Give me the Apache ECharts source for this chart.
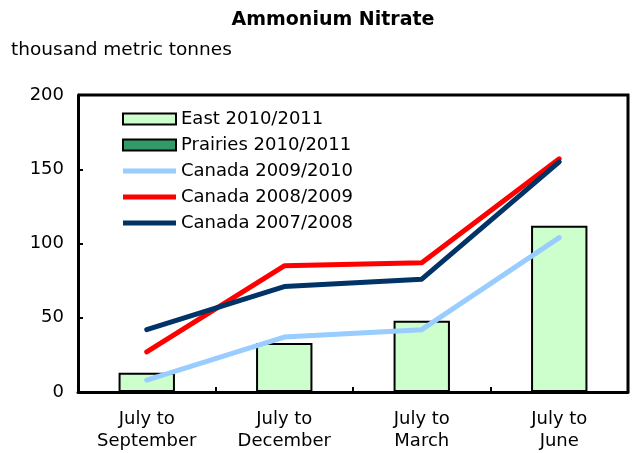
<!DOCTYPE html>
<html>
<head>
<meta charset="utf-8">
<script src="https://cdn.jsdelivr.net/npm/echarts@6/dist/echarts.min.js"></script>
<style>
  html, body { margin: 0; padding: 0; background: #fff; }
  #chart { width: 632px; height: 453px; }
</style>
</head>
<body>
<div id="chart"></div>
<script>
// data
const categories = ["July to\nSeptember", "July to\nDecember", "July to\nMarch", "July to\nJune"];
const east1011 = [13, 33, 48, 112];
const prairies1011 = [null, null, null, null]; // not visible in the picture
const canada0910 = [8, 37, 42, 104];
const canada0809 = [27, 85, 87, 157];
const canada0708 = [42, 71, 76, 155];

const font = "DejaVu Sans, Verdana, sans-serif";
const lineIcon = "path://M0,0H52V5H0Z";
const chart = echarts.init(document.getElementById("chart"));

const lineSeries = (name, data, color) => ({
  name: name,
  type: "line",
  data: data,
  symbol: "none",
  lineStyle: { color: color, width: 5, cap: "round", join: "round" },
  itemStyle: { color: color },
  z: 3
});

chart.setOption({
  animation: false,
  textStyle: { fontFamily: font },
  title: {
    text: "Ammonium Nitrate",
    left: 328,
    textAlign: "center",
    top: 6,
    textStyle: { fontSize: 19, fontWeight: "bold", color: "#000", fontFamily: font }
  },
  graphic: [{
    type: "text",
    left: 11,
    top: 41,
    style: { text: "thousand metric tonnes", font: "18.5px " + font, fill: "#000" }
  }, {
    type: "polyline",
    shape: { points: [[78, 95], [628, 95], [628, 392]] },
    style: { stroke: "#000", lineWidth: 3, fill: null },
    z: 10
  }],
  legend: {
    orient: "vertical",
    left: 117,
    top: 105,
    itemGap: 8,
    itemWidth: 53,
    itemHeight: 11,
    textStyle: { fontSize: 18, color: "#000", fontFamily: font, padding: [0, 0, 0, 0] },
    data: [
      { name: "East 2010/2011", icon: "rect" },
      { name: "Prairies 2010/2011", icon: "rect" },
      { name: "Canada 2009/2010", icon: lineIcon },
      { name: "Canada 2008/2009", icon: lineIcon },
      { name: "Canada 2007/2008", icon: lineIcon }
    ]
  },
  grid: { left: 78, right: 4, top: 95, bottom: 61, containLabel: false },
  xAxis: {
    type: "category",
    data: categories,
    axisLine: { lineStyle: { color: "#000", width: 3 } },
    axisTick: { show: true, inside: true, length: 5, lineStyle: { color: "#000", width: 2 } },
    axisLabel: { color: "#000", fontSize: 18, fontFamily: font, margin: 16, lineHeight: 22 },
    splitLine: { show: false }
  },
  yAxis: {
    type: "value",
    min: 0,
    max: 200,
    interval: 50,
    axisLine: { show: true, lineStyle: { color: "#000", width: 3 } },
    axisTick: { show: true, inside: true, length: 5, lineStyle: { color: "#000", width: 2 } },
    axisLabel: { color: "#000", fontSize: 18, fontFamily: font, margin: 14 },
    splitLine: { show: false }
  },
  series: [
    {
      name: "East 2010/2011",
      type: "bar",
      stack: "reg",
      data: east1011,
      barWidth: "41%",
      itemStyle: { color: "#ccffcc", borderColor: "#000", borderWidth: 2 }
    },
    {
      name: "Prairies 2010/2011",
      type: "bar",
      stack: "reg",
      data: prairies1011,
      itemStyle: { color: "#339966", borderColor: "#000", borderWidth: 2 }
    },
    lineSeries("Canada 2009/2010", canada0910, "#99ccff"),
    lineSeries("Canada 2008/2009", canada0809, "#ff0000"),
    lineSeries("Canada 2007/2008", canada0708, "#003366")
  ]
});
</script>
</body>
</html>
